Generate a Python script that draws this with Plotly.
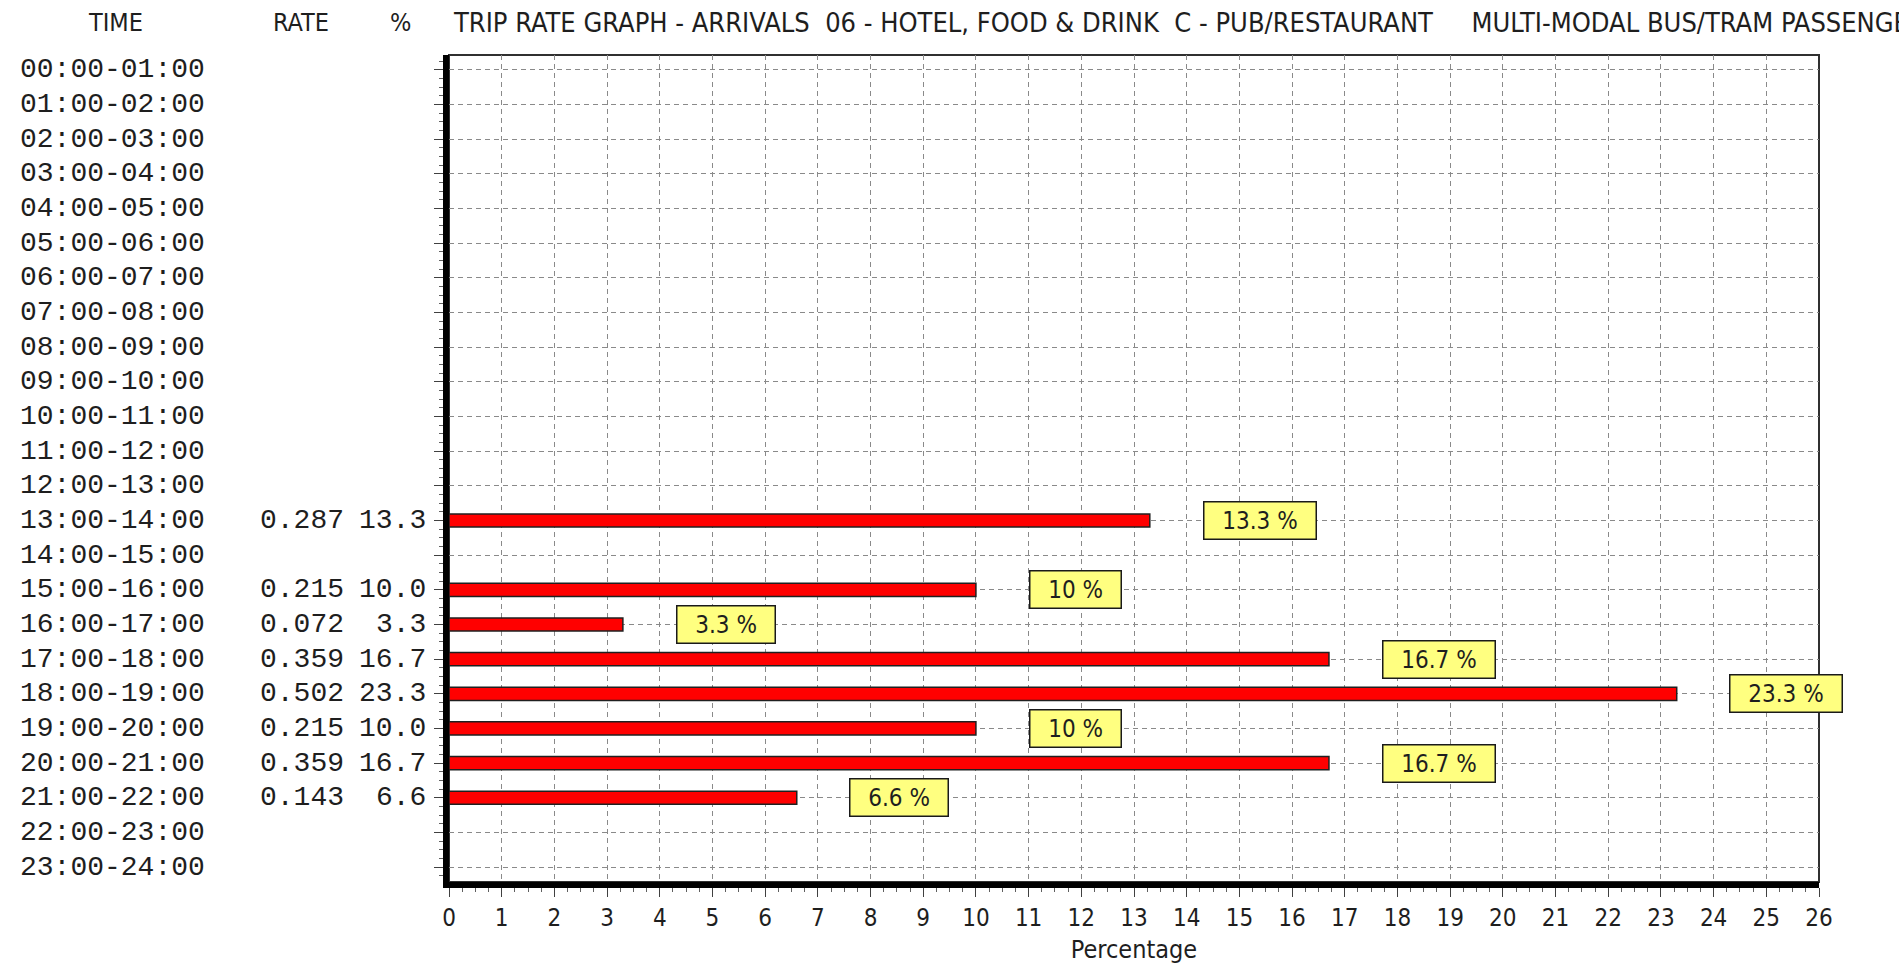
import plotly.graph_objects as go

times = [
    "00:00-01:00", "01:00-02:00", "02:00-03:00", "03:00-04:00", "04:00-05:00", "05:00-06:00",
    "06:00-07:00", "07:00-08:00", "08:00-09:00", "09:00-10:00", "10:00-11:00", "11:00-12:00",
    "12:00-13:00", "13:00-14:00", "14:00-15:00", "15:00-16:00", "16:00-17:00", "17:00-18:00",
    "18:00-19:00", "19:00-20:00", "20:00-21:00", "21:00-22:00", "22:00-23:00", "23:00-24:00",
]
rates = [None] * 13 + [0.287, None, 0.215, 0.072, 0.359, 0.502, 0.215, 0.359, 0.143, None, None]
pcts = [None] * 13 + [13.3, None, 10.0, 3.3, 16.7, 23.3, 10.0, 16.7, 6.6, None, None]
box_labels = [None] * 13 + ["13.3 %", None, "10 %", "3.3 %", "16.7 %", "23.3 %", "10 %", "16.7 %", "6.6 %", None, None]
x_ticks = list(range(0, 27))

title_text = ("TRIP RATE GRAPH - ARRIVALS\u00a0\u00a006 - HOTEL, FOOD & DRINK\u00a0\u00a0C - PUB/RESTAURANT"
              "\u00a0\u00a0\u00a0\u00a0\u00a0MULTI-MODAL BUS/TRAM PASSENGERS")

MONO = "Liberation Mono, Cousine, DejaVu Sans Mono, monospace"
NARROW = "Liberation Sans Narrow, DejaVu Sans Condensed, Arial Narrow, sans-serif"
INK = "#1e1e1e"

rows = list(range(len(times)))
bar_rows = [r for r in rows if pcts[r] is not None]

fig = go.Figure()
fig.add_trace(go.Bar(
    x=[pcts[r] for r in bar_rows],
    y=bar_rows,
    orientation="h",
    width=0.38,
    marker=dict(color="#ff0000", line=dict(color="#202020", width=1.5)),
    hoverinfo="skip",
))

annotations = []
# left-hand table: time, rate, percentage
for r in rows:
    annotations.append(dict(x=-0.3146, y=r, xref="paper", yref="y", text=times[r],
                            xanchor="left", yanchor="middle", showarrow=False,
                            font=dict(family=MONO, size=28, color=INK)))
    if rates[r] is not None:
        annotations.append(dict(x=-0.1391, y=r, xref="paper", yref="y", text=f"{rates[r]:.3f}",
                                xanchor="left", yanchor="middle", showarrow=False,
                                font=dict(family=MONO, size=28, color=INK)))
        annotations.append(dict(x=-0.0155, y=r, xref="paper", yref="y", text=f"{pcts[r]:.1f}",
                                xanchor="right", yanchor="middle", showarrow=False,
                                font=dict(family=MONO, size=28, color=INK)))
    if box_labels[r] is not None:
        annotations.append(dict(x=pcts[r] + 1, y=r, xref="x", yref="y",
                                text="\u00a0\u00a0" + box_labels[r] + "\u00a0\u00a0",
                                xanchor="left", yanchor="middle", showarrow=False,
                                bgcolor="#ffff80", bordercolor="#1a1a1a", borderwidth=1.5, borderpad=4,
                                font=dict(family=NARROW, size=24, color=INK)))

# header row
for txt, xp, anchor in [("TIME", -0.2435, "center"), ("RATE", -0.1078, "center"),
                        ("%", -0.0357, "center"), (title_text, 0.0015, "left")]:
    annotations.append(dict(x=xp, y=1.039, xref="paper", yref="paper", text=txt,
                            xanchor=anchor, yanchor="middle", showarrow=False,
                            font=dict(family=NARROW, size=27 if anchor == "left" else 25, color=INK)))

fig.update_layout(
    width=1899, height=968,
    margin=dict(l=449, r=80, t=55, b=86),
    paper_bgcolor="white", plot_bgcolor="white",
    showlegend=False,
    annotations=annotations,
    shapes=[dict(type="rect", xref="paper", yref="paper", x0=0, x1=1, y0=0, y1=1,
                 line=dict(color="#303030", width=2), layer="below")],
    xaxis=dict(
        range=[0, 26], tickvals=x_ticks, ticktext=[str(t) for t in x_ticks], automargin=False,
        showgrid=True, gridcolor="#8a8a8a", griddash="5px,4px", gridwidth=1,
        showline=True, linecolor="black", linewidth=6, zeroline=False,
        ticks="outside", ticklen=9, tickcolor="#404040", tickwidth=1,
        minor=dict(dtick=0.25, ticks="outside", ticklen=4, tickcolor="#606060", showgrid=False),
        tickfont=dict(family=NARROW, size=24, color=INK),
        title=dict(text="Percentage", font=dict(family=NARROW, size=25, color=INK), standoff=12),
    ),
    yaxis=dict(
        range=[23.43, -0.43], tickvals=rows, showticklabels=False, automargin=False,
        showgrid=True, gridcolor="#8a8a8a", griddash="5px,4px", gridwidth=1,
        showline=True, linecolor="black", linewidth=6, zeroline=False,
        ticks="outside", ticklen=9, tickcolor="#404040", tickwidth=1,
        minor=dict(dtick=0.25, ticks="outside", ticklen=4, tickcolor="#606060", showgrid=False),
    ),
)

# drop the browser's default body margin so the figure sits at the page corner
fig.write_html("out.html", config={"displayModeBar": False},
               post_script="document.body.style.margin='0';")
